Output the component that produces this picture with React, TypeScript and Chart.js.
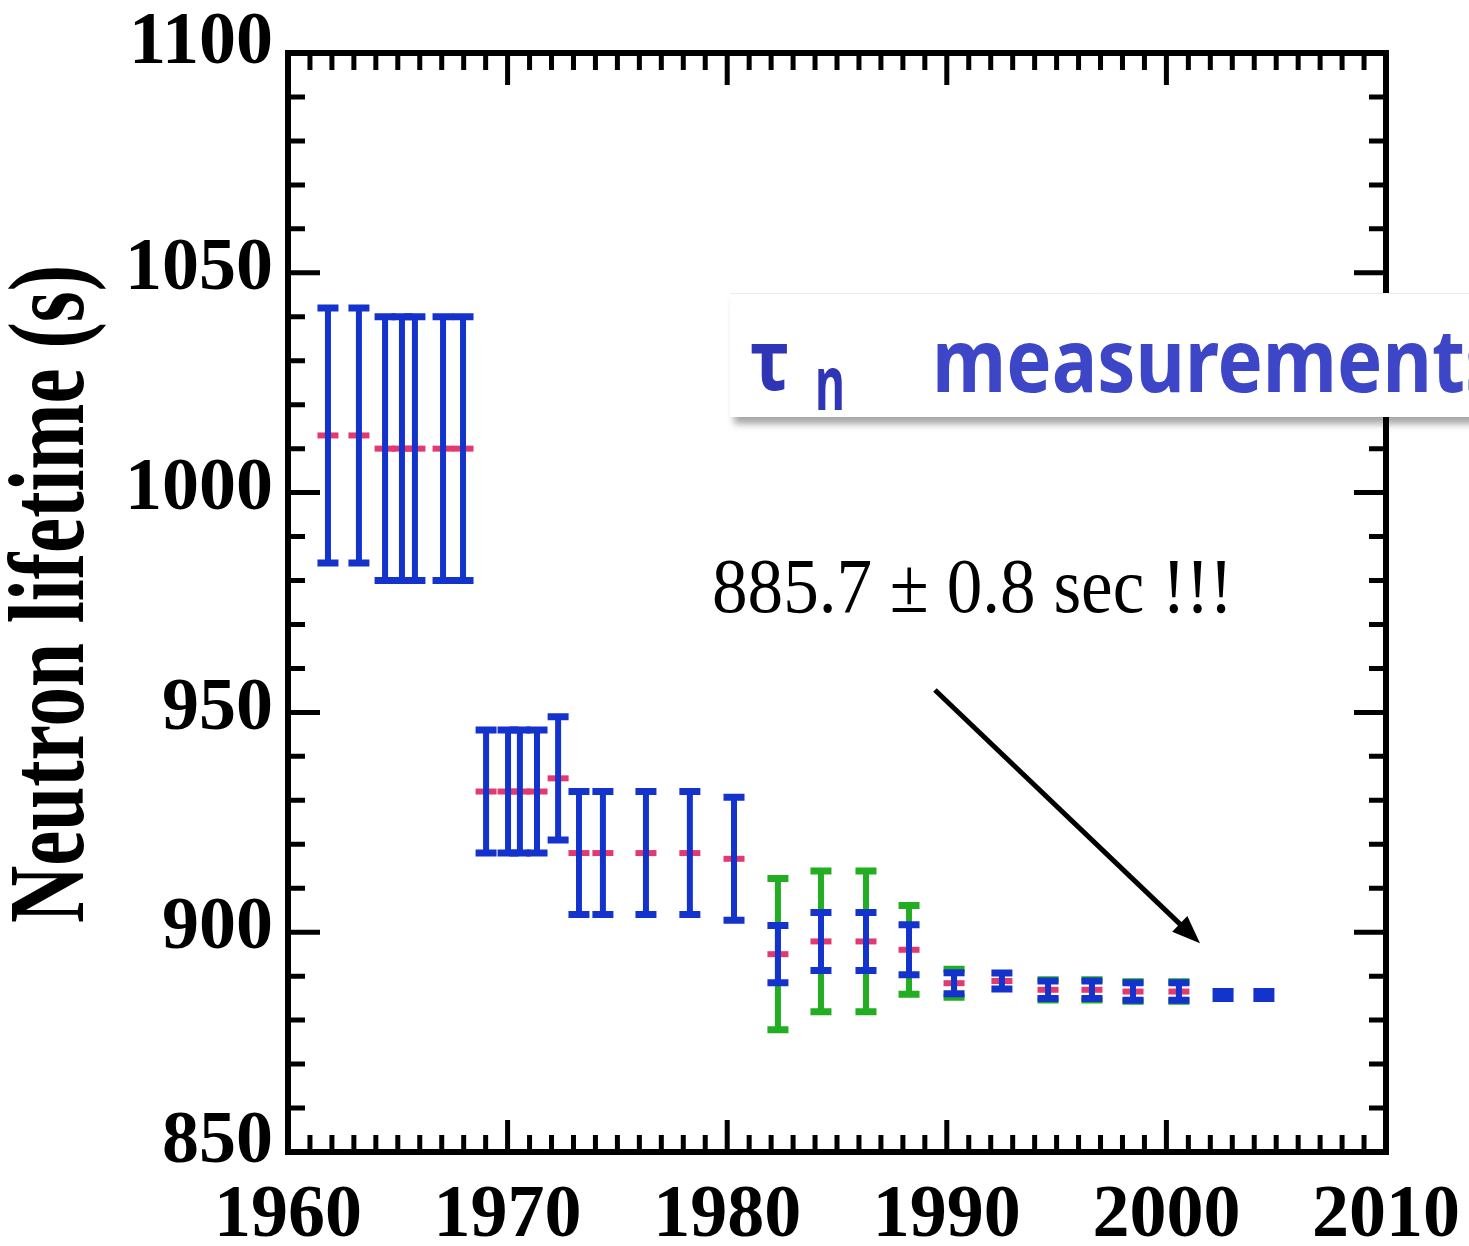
import { useEffect, useRef } from "react";
import { Chart, registerables } from "chart.js";

Chart.register(...registerables);

// Measurement epoch (year) of each neutron lifetime result
const years = [
  1961.82, 1963.23, 1964.42, 1965.19, 1965.78, 1967.06, 1967.97,
  1969.02, 1970.02, 1970.56, 1971.34, 1972.3, 1973.25, 1974.34, 1976.3, 1978.3, 1980.31,
  1982.31, 1984.27, 1986.32, 1988.28, 1990.33, 1992.51,
  1994.61, 1996.61, 1998.48, 2000.57, 2002.58, 2004.44,
];

// Central values (s)
const lifetimes = [
  1013, 1013, 1010, 1010, 1010, 1010, 1010,
  932, 932, 932, 932, 935, 918, 918, 918, 918, 916.7,
  895, 897.9, 897.9, 896, 888.4, 888.9,
  886.9, 886.9, 886.5, 886.5, 885.7, 885.7,
];

// Statistical uncertainty (s), drawn in blue
const statErrors = [
  29, 29, 30, 30, 30, 30, 30,
  14, 14, 14, 14, 14, 14, 14, 14, 14, 14,
  6.5, 6.6, 6.6, 5.7, 2.4, 1.8,
  2.0, 2.0, 2.0, 2.0, 0.8, 0.8,
];

// Total uncertainty (s), drawn in green where quoted
const totalErrors: (number | null)[] = [
  null, null, null, null, null, null, null,
  null, null, null, null, null, null, null, null, null, null,
  17.2, 16, 16, 10.1, 3.2, null,
  2.3, 2.3, 2.2, 2.2, null, null,
];

const yearRange = [1960, 2010];
const lifetimeRange = [850, 1100];

const noteText = "885.7 \u00b1 0.8 sec !!!";
const notePos = { year: 1979.31, value: 972.8 };
const arrowFrom = { year: 1989.46, value: 955.1 };
const arrowTo = { year: 2001.53, value: 897.5 };

const SERIF = '"Liberation Serif", "Times New Roman", serif';
const ROUND = '"Comic Sans MS", "Noto Sans", sans-serif';
const BLUE = "#1433cc";
const GREEN = "#22ad22";
const RED = "#e23a6e";
const TITLE_BLUE = "#3e46c8";
const TAU_BLUE = "#2f35b5";

const CAP = 10.5;
const BAR_WIDTH = 6;
const CAP_WIDTH = 7;

function drawErrorBars(chart: any, errors: (number | null)[], color: string) {
  const { ctx, scales } = chart;
  const x = scales.x;
  const y = scales.y;
  ctx.save();
  ctx.strokeStyle = color;
  ctx.lineCap = "butt";
  years.forEach((yr, i) => {
    const e = errors[i];
    if (e == null) return;
    const px = x.getPixelForValue(yr);
    const top = y.getPixelForValue(lifetimes[i] + e);
    const bottom = y.getPixelForValue(lifetimes[i] - e);
    ctx.lineWidth = BAR_WIDTH;
    ctx.beginPath();
    ctx.moveTo(px, top);
    ctx.lineTo(px, bottom);
    ctx.stroke();
    ctx.lineWidth = CAP_WIDTH;
    ctx.beginPath();
    ctx.moveTo(px - CAP, top);
    ctx.lineTo(px + CAP, top);
    ctx.moveTo(px - CAP, bottom);
    ctx.lineTo(px + CAP, bottom);
    ctx.stroke();
  });
  ctx.restore();
}

// Text squeezed or stretched horizontally so it spans a given width
function fitText(
  ctx: CanvasRenderingContext2D,
  text: string,
  font: string,
  width: number,
  scaleY = 1,
  measureWith?: string
) {
  ctx.font = font;
  const w = ctx.measureText(measureWith ?? text).width;
  const sx = width / w;
  ctx.save();
  ctx.scale(sx, scaleY);
  ctx.fillText(text, 0, 0);
  ctx.restore();
}

const errorBarPlugin = {
  id: "errorBars",
  beforeDatasetsDraw(chart: any) {
    drawErrorBars(chart, totalErrors, GREEN);
  },
  afterDatasetsDraw(chart: any) {
    drawErrorBars(chart, statErrors, BLUE);
  },
};

const framePlugin = {
  id: "frame",
  afterDraw(chart: any) {
    const { ctx, chartArea, scales } = chart;
    const x = scales.x;
    const y = scales.y;
    const { left, right, top, bottom } = chartArea;

    ctx.save();
    ctx.strokeStyle = "#000";
    ctx.lineCap = "butt";

    // inward tick marks on all four sides
    ctx.lineWidth = 5;
    ctx.beginPath();
    for (let v = yearRange[0] + 1; v < yearRange[1]; v++) {
      const len = v % 10 === 0 ? 32 : 17;
      const px = x.getPixelForValue(v);
      ctx.moveTo(px, bottom);
      ctx.lineTo(px, bottom - len);
      ctx.moveTo(px, top);
      ctx.lineTo(px, top + len);
    }
    for (let v = lifetimeRange[0] + 10; v < lifetimeRange[1]; v += 10) {
      const len = v % 50 === 0 ? 32 : 17;
      const py = y.getPixelForValue(v);
      ctx.moveTo(left, py);
      ctx.lineTo(left + len, py);
      ctx.moveTo(right, py);
      ctx.lineTo(right - len, py);
    }
    ctx.stroke();

    ctx.lineWidth = 6;
    ctx.strokeRect(left, top, right - left, bottom - top);

    // y tick labels
    ctx.fillStyle = "#000";
    ctx.font = `bold 74px ${SERIF}`;
    ctx.textAlign = "right";
    ctx.textBaseline = "middle";
    y.ticks.forEach((t: any) => {
      const py = y.getPixelForValue(t.value);
      const shift = t.value === lifetimeRange[1] ? -9 : t.value === lifetimeRange[0] ? -9 : -3;
      ctx.fillText(String(t.value), left - 15, py + shift);
    });

    // y axis title, condensed serif
    ctx.textAlign = "center";
    ctx.textBaseline = "alphabetic";
    ctx.save();
    ctx.translate(83, 594);
    ctx.rotate(-Math.PI / 2);
    fitText(ctx, "Neutron lifetime (s)", `bold 109px ${SERIF}`, 658);
    ctx.restore();

    // annotation
    ctx.textAlign = "left";
    ctx.save();
    ctx.translate(x.getPixelForValue(notePos.year), y.getPixelForValue(notePos.value));
    fitText(ctx, noteText, `78px ${SERIF}`, 521);
    ctx.restore();

    // arrow to the latest values
    const x0 = x.getPixelForValue(arrowFrom.year);
    const y0 = y.getPixelForValue(arrowFrom.value);
    const x1 = x.getPixelForValue(arrowTo.year);
    const y1 = y.getPixelForValue(arrowTo.value);
    const ang = Math.atan2(y1 - y0, x1 - x0);
    const head = 28;
    const half = 11;
    const bx = x1 - Math.cos(ang) * head;
    const by = y1 - Math.sin(ang) * head;
    ctx.lineWidth = 5;
    ctx.beginPath();
    ctx.moveTo(x0, y0);
    ctx.lineTo(bx + Math.cos(ang) * 4, by + Math.sin(ang) * 4);
    ctx.stroke();
    ctx.beginPath();
    ctx.moveTo(x1, y1);
    ctx.lineTo(bx + Math.sin(ang) * half, by - Math.cos(ang) * half);
    ctx.lineTo(bx - Math.sin(ang) * half, by + Math.cos(ang) * half);
    ctx.closePath();
    ctx.fillStyle = "#000";
    ctx.fill();

    // title panel
    ctx.save();
    ctx.shadowColor = "rgba(0,0,0,0.35)";
    ctx.shadowOffsetX = 4;
    ctx.shadowOffsetY = 7;
    ctx.shadowBlur = 7;
    ctx.fillStyle = "#ffffff";
    ctx.fillRect(730, 293, 800, 124);
    ctx.restore();
    ctx.strokeStyle = "#ececec";
    ctx.lineWidth = 1;
    ctx.beginPath();
    ctx.moveTo(730, 293.5);
    ctx.lineTo(1469, 293.5);
    ctx.stroke();

    ctx.fillStyle = TAU_BLUE;
    ctx.save();
    ctx.translate(750, 390);
    fitText(ctx, "\u03c4", `bold 80px ${ROUND}`, 40, 1.05);
    ctx.restore();
    ctx.save();
    ctx.translate(815, 410);
    fitText(ctx, "n", `bold 66px ${ROUND}`, 30, 1.15);
    ctx.restore();
    ctx.fillStyle = TITLE_BLUE;
    ctx.save();
    ctx.translate(932, 392);
    fitText(ctx, "measurements", `bold 76px ${ROUND}`, 533, 1.15, "measurement");
    ctx.restore();

    ctx.restore();
  },
};

export default function App() {
  const canvasRef = useRef<HTMLCanvasElement | null>(null);

  useEffect(() => {
    const canvas = canvasRef.current;
    if (!canvas) return;
    const chart = new Chart(canvas, {
      type: "scatter",
      data: {
        datasets: [
          {
            label: "Neutron lifetime",
            data: years.map((yr, i) => ({ x: yr, y: lifetimes[i] })),
            showLine: false,
            pointStyle: "line",
            // central marker is hidden when the error bar is thinner than the marker
            pointRadius: statErrors.map((e) => (e < 1 ? 0 : CAP)),
            pointBorderWidth: 6,
            pointBorderColor: RED,
            pointBackgroundColor: RED,
          },
        ],
      },
      options: {
        responsive: false,
        animation: false,
        events: [],
        layout: { padding: { top: 53, right: 83, left: 0, bottom: 0 } },
        plugins: {
          legend: { display: false },
          tooltip: { enabled: false },
        },
        scales: {
          x: {
            type: "linear",
            min: yearRange[0],
            max: yearRange[1],
            grid: { display: false, drawTicks: false },
            border: { display: false },
            ticks: {
              stepSize: 10,
              padding: 20,
              color: "#000",
              font: { family: SERIF, size: 74, weight: "bold" },
              callback: (v: any) => String(v),
              maxRotation: 0,
              autoSkip: false,
            },
            afterFit: (s: any) => {
              s.height = 94;
              s.paddingLeft = 0;
              s.paddingRight = 0;
            },
          },
          y: {
            type: "linear",
            min: lifetimeRange[0],
            max: lifetimeRange[1],
            grid: { display: false, drawTicks: false },
            border: { display: false },
            ticks: {
              stepSize: 50,
              display: false,
            },
            afterFit: (s: any) => {
              s.width = 288;
              s.paddingTop = 0;
              s.paddingBottom = 0;
            },
          },
        },
      },
      plugins: [errorBarPlugin, framePlugin],
    } as any);
    return () => chart.destroy();
  }, []);

  return (
    <div
      style={{
        position: "fixed",
        left: 0,
        top: 0,
        width: 1469,
        height: 1246,
        overflow: "hidden",
        background: "#ffffff",
      }}
    >
      <canvas ref={canvasRef} width={1469} height={1246} style={{ display: "block" }} />
    </div>
  );
}
